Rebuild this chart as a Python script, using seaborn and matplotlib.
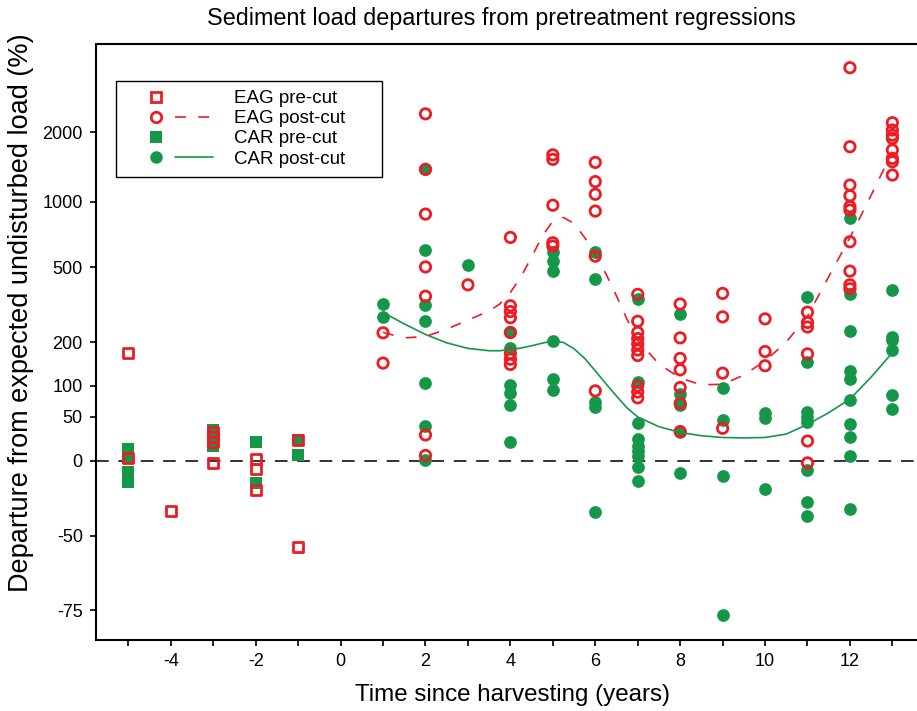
import numpy as np
import pandas as pd
import matplotlib
matplotlib.use("Agg")
import matplotlib.pyplot as plt
import seaborn as sns
from matplotlib.lines import Line2D
from matplotlib.legend_handler import HandlerBase

# departures (%), grouped by year since harvest
eag_pre_x = [-5, -5, -4, -3, -3, -3, -3, -2, -2, -2, -1, -1]
eag_pre_y = [172, 3, -37, 31, 25, 19, -2, 2, -7, -24, 21, -55]

car_pre_x = [-5, -5, -5, -5, -3, -3, -3, -2, -2, -1, -1]
car_pre_y = [11, 3, -10, -18, 33, 24, 15, 19, -19, 21, 5]

eag_post = {
    1: [227, 147],
    2: [2385, 1386, 882, 502, 359, 27, 5],
    3: [410],
    4: [691, 320, 298, 276, 228, 170, 156, 144],
    5: [1600, 1530, 966, 653, 630],
    6: [1485, 1227, 1080, 910, 565, 91],
    7: [367, 264, 228, 210, 195, 179, 165, 100, 89, 79],
    8: [327, 212, 158, 132, 97, 70, 31],
    9: [371, 279, 125, 35],
    10: [272, 175, 141],
    11: [296, 260, 245, 169, 20, -2],
    12: [3710, 1733, 1185, 1064, 952, 919, 660, 479, 410, 392],
    13: [2190, 2040, 1940, 1880, 1678, 1545, 1495, 1310],
}

car_post = {
    1: [327, 280],
    2: [1386, 601, 322, 264, 105, 38, 1],
    3: [513],
    4: [229, 183, 101, 87, 68, 19],
    5: [589, 535, 477, 203, 114, 93],
    6: [590, 438, 73, 64, -38],
    7: [346, 108, 42, 22, 15, 9, 4, -6, -17],
    8: [291, 86, 67, 31, -11],
    9: [97, 46, -13, -76],
    10: [55, 48, -23],
    11: [357, 150, 57, 50, 43, -8, -32, -40],
    12: [846, 367, 231, 130, 114, 76, 40, 24, 4, -36],
    13: [386, 215, 206, 179, 84, 61],
}

# smoothed post-cut trends
curve_x = [1, 1.5, 2, 2.5, 3, 3.5, 3.75, 4, 4.25, 4.5, 4.75, 5, 5.25, 5.5,
           5.75, 6, 6.25, 6.5, 6.75, 7, 7.5, 8, 8.5, 9, 9.5, 10, 10.5, 11,
           11.5, 12, 12.5, 13]
eag_curve = [228, 212, 216, 238, 268, 300, 327, 375, 450, 560, 700, 820, 852,
             800, 690, 575, 465, 360, 270, 205, 145, 115, 102, 103, 121, 152,
             200, 282, 450, 690, 1070, 1650]
car_curve = [295, 255, 222, 198, 183, 177, 177, 180, 184, 190, 197, 203, 199,
             182, 158, 130, 104, 82, 63, 50, 37, 30, 26, 24, 23.5, 24, 28, 40,
             56, 77, 117, 172]

y_ticks = [-75, -50, 0, 50, 100, 200, 500, 1000, 2000]

RED = "#ED1C24"
GREEN = "#15974A"


def to_frame(groups):
    rows = [(x, v) for x, vals in groups.items() for v in vals]
    return pd.DataFrame(rows, columns=["x", "y"])


def fwd(d):
    return np.log10(np.clip(1 + np.asarray(d, dtype=float) / 100.0, 1e-6, None))


def inv(v):
    return 100.0 * (10 ** np.asarray(v, dtype=float) - 1)


class HandlerMarkerLine(HandlerBase):
    # marker on the left, line segment on the right (as in the original legend)
    def create_artists(self, legend, orig_handle, xdescent, ydescent,
                       width, height, fontsize, trans):
        marker, line = orig_handle
        y = height / 2 - ydescent
        m = Line2D([0.35 * width - xdescent], [y])
        m.update_from(marker)
        m.set_transform(trans)
        artists = [m]
        if line is not None:
            ln = Line2D([0.57 * width - xdescent, width - xdescent], [y, y])
            ln.update_from(line)
            ln.set_transform(trans)
            artists.append(ln)
        return artists


sns.set_theme(style="ticks")
plt.rcParams["font.family"] = ["Liberation Sans", "DejaVu Sans"]
plt.rcParams["text.color"] = "black"
plt.rcParams["axes.labelcolor"] = "black"

fig = plt.figure(figsize=(9.17, 7.11), dpi=100)
ax = fig.add_axes([96 / 917, 71 / 711, 821 / 917, 596 / 711])

eag_df = to_frame(eag_post)
car_df = to_frame(car_post)
curves = pd.DataFrame({"x": curve_x, "eag": eag_curve, "car": car_curve})

sns.scatterplot(x=car_pre_x, y=car_pre_y, marker="s", s=72, color=GREEN,
                linewidth=0, ax=ax, zorder=3)
sns.scatterplot(data=car_df, x="x", y="y", marker="o", s=84, color=GREEN,
                linewidth=0, ax=ax, zorder=3)
sns.scatterplot(x=eag_pre_x, y=eag_pre_y, marker="s", s=52, color=RED,
                facecolor="none", edgecolor=RED, linewidth=2.0, ax=ax, zorder=4)
sns.scatterplot(data=eag_df, x="x", y="y", marker="o", s=56, color=RED,
                facecolor="none", edgecolor=RED, linewidth=2.0, ax=ax, zorder=4)

sns.lineplot(data=curves, x="x", y="car", color=GREEN, lw=1.2, ax=ax, zorder=5)
sns.lineplot(data=curves, x="x", y="eag", color=RED, lw=1.2,
             ax=ax, zorder=5).lines[-1].set_dashes([6.5, 7.5])

ax.axhline(0, color="#333333", lw=1.4, dashes=(6.5, 5), zorder=2)

ax.set_yscale("function", functions=(fwd, inv))
ax.set_ylim(-81, 4646)
ax.set_xlim(-5.763, 13.58)
ax.set_yticks(y_ticks)
ax.set_yticklabels([str(t) for t in y_ticks])
ax.yaxis.set_minor_locator(matplotlib.ticker.NullLocator())
xt = list(range(-5, 14))
ax.set_xticks(xt)
ax.set_xticklabels([str(t) if t % 2 == 0 else "" for t in xt])

for side in ["left", "bottom", "top"]:
    ax.spines[side].set_color("black")
    ax.spines[side].set_linewidth(1.5)
ax.spines["right"].set_visible(False)
ax.tick_params(axis="both", direction="out", length=4.5, width=1.2,
               colors="black", labelsize=13, pad=5)

ax.set_title("Sediment load departures from pretreatment regressions",
             fontsize=16.8, pad=14, color="black", x=0.494)
ax.set_xlabel("Time since harvesting (years)", fontsize=17.4, labelpad=10)
ax.set_ylabel("Departure from expected undisturbed load (%)", fontsize=19.5,
              labelpad=6)
ax.xaxis.label.set_x(0.507)
ax.yaxis.label.set_y(0.55)

blank = None
h_eag_pre = (Line2D([], [], marker="s", ls="none", mfc="none", mec=RED,
                    mew=2.0, ms=7.2), blank)
h_eag_post = (Line2D([], [], marker="o", ls="none", mfc="none", mec=RED,
                     mew=2.0, ms=7.5),
              Line2D([], [], color=RED, lw=1.2, dashes=[6.5, 7.5]))
h_car_pre = (Line2D([], [], marker="s", ls="none", mfc=GREEN, mec=GREEN,
                    mew=0, ms=8.4), blank)
h_car_post = (Line2D([], [], marker="o", ls="none", mfc=GREEN, mec=GREEN,
                     mew=0, ms=9.0),
              Line2D([], [], color=GREEN, lw=1.2))

x0 = 20 / 821
y1 = 1 - 37 / 596
leg = ax.legend([h_eag_pre, h_eag_post, h_car_pre, h_car_post],
                ["EAG pre-cut", "EAG post-cut", "CAR pre-cut", "CAR post-cut"],
                handler_map={tuple: HandlerMarkerLine()},
                loc="upper left", bbox_to_anchor=(x0, y1 - 93 / 596, 266 / 821, 93 / 596),
                mode="expand", borderaxespad=0, fontsize=13.5, frameon=True,
                fancybox=False, framealpha=1, edgecolor="black",
                borderpad=0.48, labelspacing=0.16, handlelength=4.7,
                handletextpad=1.1)
leg.get_frame().set_linewidth(1.0)

fig.savefig("out.png", dpi=100, facecolor="white")
